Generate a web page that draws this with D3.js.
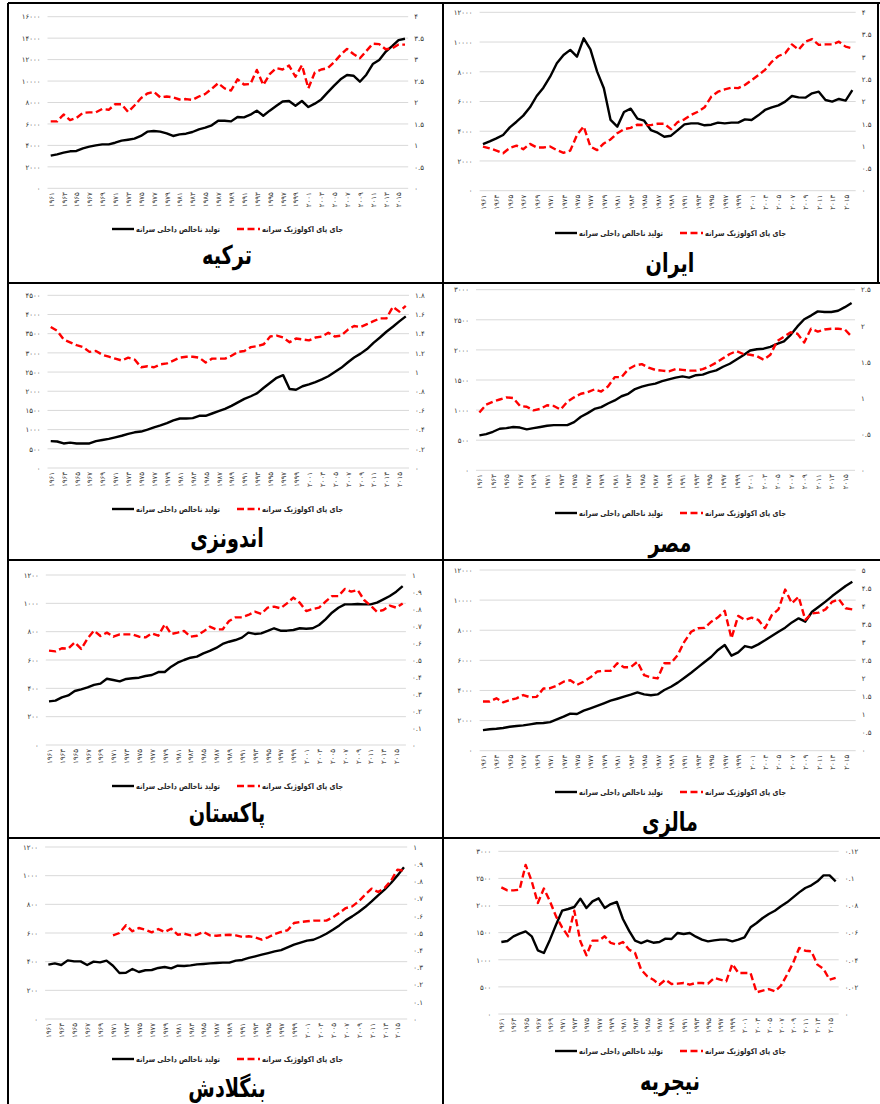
<!DOCTYPE html>
<html>
<head>
<meta charset="utf-8">
<script src="https://cdn.jsdelivr.net/npm/d3@7"></script>
<style>
  html, body { margin: 0; padding: 0; background: #fff; }
  svg { display: block; font-family: "DejaVu Sans", sans-serif; }
</style>
</head>
<body>
<svg id="chart" width="880" height="1104"></svg>
<script>
// ---------------- DATA ----------------
const years = [1961,1962,1963,1964,1965,1966,1967,1968,1969,1970,1971,1972,1973,1974,1975,1976,1977,1978,1979,1980,
  1981,1982,1983,1984,1985,1986,1987,1988,1989,1990,1991,1992,1993,1994,1995,1996,1997,1998,1999,2000,
  2001,2002,2003,2004,2005,2006,2007,2008,2009,2010,2011,2012,2013,2014,2015,2016];
const yearTickLabels = [1961,1963,1965,1967,1969,1971,1973,1975,1977,1979,1981,1983,1985,1987,1989,1991,1993,1995,
  1997,1999,2001,2003,2005,2007,2009,2011,2013,2015];

const seriesNames = ["تولید ناخالص داخلی سرانه", "جای پای اکولوژیک سرانه"];
const countryNames = ["ترکیه", "ایران", "اندونزی", "مصر", "پاکستان", "مالزی", "بنگلادش", "نیجریه"];

// Turkey
const turkeyGdp = [3050,3170,3320,3450,3480,3730,3880,4000,4100,4100,4250,4440,4530,4630,4880,5280,5340,5280,5120,4880,
  5030,5090,5250,5500,5650,5870,6300,6300,6240,6650,6610,6860,7240,6770,7240,7670,8100,8140,7700,8140,
  7580,7890,8290,8940,9570,10160,10560,10500,9940,10590,11580,11960,12730,13260,13820,13940];
const turkeyEf = [1.56,1.56,1.72,1.59,1.64,1.76,1.77,1.77,1.85,1.83,1.96,1.96,1.78,1.93,2.10,2.21,2.25,2.12,2.14,2.12,
  2.07,2.08,2.06,2.14,2.20,2.32,2.45,2.33,2.28,2.54,2.42,2.43,2.76,2.41,2.66,2.80,2.77,2.86,2.60,2.87,
  2.33,2.70,2.77,2.80,2.94,3.11,3.25,3.13,3.03,3.20,3.37,3.36,3.24,3.26,3.35,3.35];
const turkeyLeftTicks = [0,2000,4000,6000,8000,10000,12000,14000,16000];
const turkeyRightTicks = [0,0.5,1,1.5,2,2.5,3,3.5,4];

// Iran
const iranGdp = [3140,3320,3520,3750,4260,4640,5050,5610,6370,6930,7670,8570,9130,9470,9020,10250,9510,8010,6890,4760,
  4310,5290,5520,4850,4710,4080,3900,3630,3700,4080,4460,4530,4530,4400,4440,4580,4530,4580,4580,4800,
  4760,5070,5430,5610,5740,5990,6370,6280,6260,6550,6660,6100,5990,6170,6060,6770];
const iranEf = [0.99,0.95,0.90,0.84,0.96,1.01,0.93,1.05,0.97,0.97,0.99,0.91,0.85,0.90,1.25,1.44,0.99,0.91,1.06,1.15,
  1.29,1.38,1.41,1.48,1.47,1.47,1.50,1.50,1.38,1.54,1.60,1.70,1.77,1.87,2.11,2.22,2.27,2.31,2.30,2.37,
  2.48,2.59,2.71,2.89,3.02,3.08,3.28,3.16,3.34,3.40,3.27,3.28,3.28,3.34,3.23,3.19];
const iranLeftTicks = [0,2000,4000,6000,8000,10000,12000];
const iranRightTicks = [0,0.5,1,1.5,2,2.5,3,3.5,4];

// Indonesia
const indonesiaGdp = [700,690,640,660,640,640,640,700,730,760,800,840,890,930,950,1000,1060,1110,1170,1240,
  1290,1290,1300,1360,1360,1420,1480,1540,1620,1710,1800,1870,1950,2090,2220,2350,2420,2060,2040,2130,
  2180,2240,2310,2390,2500,2610,2750,2880,2980,3100,3260,3400,3550,3680,3820,3950];
const indonesiaEf = [1.47,1.43,1.34,1.31,1.28,1.26,1.21,1.22,1.18,1.16,1.14,1.12,1.15,1.13,1.05,1.06,1.05,1.08,1.09,1.12,
  1.15,1.16,1.16,1.15,1.10,1.14,1.14,1.14,1.17,1.21,1.22,1.26,1.27,1.29,1.37,1.38,1.36,1.31,1.35,1.34,
  1.33,1.36,1.37,1.41,1.37,1.38,1.44,1.48,1.47,1.50,1.53,1.56,1.56,1.68,1.63,1.69];
const indonesiaLeftTicks = [0,500,1000,1500,2000,2500,3000,3500,4000,4500];
const indonesiaRightTicks = [0,0.2,0.4,0.6,0.8,1,1.2,1.4,1.6,1.8];

// Egypt
const egyptGdp = [580,600,640,690,700,720,710,680,700,720,740,750,750,750,800,890,950,1020,1050,1110,
  1160,1230,1270,1350,1390,1420,1440,1480,1510,1540,1560,1540,1580,1590,1630,1660,1720,1770,1840,1910,
  1990,2010,2020,2050,2100,2140,2250,2390,2510,2570,2640,2630,2630,2650,2710,2780];
const egyptEf = [0.80,0.91,0.95,0.98,1.01,1.00,0.89,0.88,0.83,0.85,0.90,0.89,0.84,0.95,1.01,1.06,1.08,1.12,1.09,1.16,
  1.29,1.29,1.40,1.45,1.47,1.42,1.39,1.38,1.37,1.40,1.39,1.38,1.38,1.40,1.44,1.49,1.55,1.61,1.65,1.61,
  1.60,1.58,1.53,1.60,1.79,1.85,1.91,1.89,1.77,1.96,1.92,1.95,1.96,1.96,1.95,1.85];
const egyptLeftTicks = [0,500,1000,1500,2000,2500,3000];
const egyptRightTicks = [0,0.5,1,1.5,2,2.5];

// Pakistan
const pakistanGdp = [308,313,336,350,381,393,407,424,433,468,459,449,466,471,475,487,494,515,515,553,
  581,600,616,624,647,664,685,713,729,741,758,793,784,788,805,824,807,807,812,824,
  821,824,847,887,934,969,993,993,995,993,993,1005,1028,1052,1082,1122];
const pakistanEf = [0.555,0.551,0.569,0.567,0.604,0.565,0.627,0.673,0.641,0.661,0.637,0.651,0.651,0.651,0.637,0.633,0.657,0.643,0.710,0.653,
  0.661,0.671,0.637,0.643,0.667,0.696,0.680,0.680,0.729,0.751,0.751,0.765,0.784,0.771,0.808,0.814,0.804,0.833,0.867,0.837,
  0.788,0.800,0.808,0.843,0.876,0.876,0.918,0.902,0.912,0.853,0.820,0.784,0.794,0.820,0.808,0.833];
const pakistanLeftTicks = [0,200,400,600,800,1000,1200];
const pakistanRightTicks = [0,0.1,0.2,0.3,0.4,0.5,0.6,0.7,0.8,0.9,1];

// Malaysia
const malaysiaGdp = [1370,1420,1460,1510,1590,1640,1680,1750,1820,1840,1900,2080,2260,2460,2440,2660,2810,2970,3140,3320,
  3450,3590,3720,3870,3740,3680,3740,4030,4250,4520,4850,5180,5530,5890,6240,6690,7020,6310,6530,6950,
  6840,7060,7330,7620,7900,8170,8520,8790,8570,9230,9560,9900,10270,10600,10940,11220];
const malaysiaEf = [1.36,1.36,1.45,1.34,1.40,1.45,1.54,1.48,1.49,1.72,1.73,1.80,1.91,1.95,1.82,1.91,2.03,2.19,2.21,2.21,
  2.42,2.31,2.31,2.46,2.09,2.03,2.00,2.42,2.42,2.65,3.02,3.29,3.39,3.40,3.57,3.69,3.87,3.11,3.73,3.62,
  3.68,3.62,3.39,3.75,3.91,4.46,4.08,4.26,3.62,3.80,3.82,3.91,4.12,4.19,3.94,3.91];
const malaysiaLeftTicks = [0,2000,4000,6000,8000,10000,12000];
const malaysiaRightTicks = [0,0.5,1,1.5,2,2.5,3,3.5,4,4.5,5];

// Bangladesh
const bangladeshGdp = [379,388,377,409,402,402,377,400,395,407,372,321,323,349,328,340,342,356,363,353,
  372,370,374,381,384,388,391,393,393,407,412,426,437,449,460,472,481,500,519,533,
  547,553,572,595,623,653,688,716,747,781,821,863,902,949,1002,1058];
const bangladeshEf = [null,null,null,null,null,null,null,null,null,null,0.486,0.500,0.545,0.510,0.529,0.519,0.504,0.523,0.506,0.525,
  0.490,0.496,0.486,0.490,0.506,0.486,0.484,0.488,0.490,0.486,0.477,0.481,0.475,0.461,0.475,0.494,0.506,0.516,0.558,0.564,
  0.568,0.572,0.572,0.572,0.591,0.616,0.645,0.655,0.684,0.723,0.758,0.738,0.762,0.804,0.868,0.862];
const bangladeshLeftTicks = [0,200,400,600,800,1000,1200];
const bangladeshRightTicks = [0,0.1,0.2,0.3,0.4,0.5,0.6,0.7,0.8,0.9,1];

// Nigeria
const nigeriaGdp = [1328,1346,1432,1481,1524,1432,1174,1125,1371,1647,1905,1936,1973,2127,1955,2077,2133,1955,2028,2065,
  1752,1537,1352,1309,1352,1315,1328,1389,1383,1494,1475,1494,1426,1371,1340,1358,1371,1371,1340,1371,
  1414,1598,1678,1770,1844,1905,1985,2059,2151,2243,2323,2372,2446,2557,2557,2446];
const nigeriaEf = [0.0934,0.0912,0.0912,0.0917,0.110,0.0979,0.0819,0.0925,0.0831,0.0720,0.0639,0.0573,0.0762,0.0536,0.0433,0.0541,0.0541,0.0573,0.0524,0.0511,
  0.0531,0.0475,0.0450,0.0327,0.0278,0.0253,0.0216,0.0253,0.0221,0.0224,0.0229,0.0216,0.0229,0.0229,0.0224,0.0266,0.0253,0.0241,0.0369,0.0302,
  0.0302,0.0302,0.0160,0.0172,0.0184,0.0167,0.0209,0.0290,0.0376,0.0487,0.0467,0.0462,0.0364,0.0332,0.0253,0.0266];
const nigeriaLeftTicks = [0,500,1000,1500,2000,2500,3000];
const nigeriaRightTicks = [0,0.02,0.04,0.06,0.08,0.1,0.12];

// ---------------- LAYOUT (positions only) ----------------
const panels = [
  {ox:0,   oy:0,   x0:47.5, x1:408.2, yTop:16.7, yBot:188.3, legY:229, titleY:255, gdp:turkeyGdp, ef:turkeyEf, lt:turkeyLeftTicks, rt:turkeyRightTicks},
  {ox:443, oy:0,   x0:36.6, x1:412.7, yTop:12.3, yBot:190.7, legY:233, titleY:263, gdp:iranGdp, ef:iranEf, lt:iranLeftTicks, rt:iranRightTicks},
  {ox:0,   oy:283, x0:47.5, x1:409.0, yTop:12.3, yBot:185.0, legY:226, titleY:255, gdp:indonesiaGdp, ef:indonesiaEf, lt:indonesiaLeftTicks, rt:indonesiaRightTicks},
  {ox:443, oy:283, x0:33.0, x1:412.0, yTop:6.7,  yBot:187.3, legY:230, titleY:260, gdp:egyptGdp, ef:egyptEf, lt:egyptLeftTicks, rt:egyptRightTicks},
  {ox:0,   oy:560, x0:45.8, x1:405.9, yTop:15.0, yBot:185.0, legY:226, titleY:253, gdp:pakistanGdp, ef:pakistanEf, lt:pakistanLeftTicks, rt:pakistanRightTicks},
  {ox:443, oy:560, x0:36.6, x1:412.7, yTop:10.0, yBot:190.7, legY:232, titleY:262, gdp:malaysiaGdp, ef:malaysiaEf, lt:malaysiaLeftTicks, rt:malaysiaRightTicks},
  {ox:0,   oy:838, x0:45.1, x1:407.2, yTop:9.0,  yBot:181.0, legY:221, titleY:250, gdp:bangladeshGdp, ef:bangladeshEf, lt:bangladeshLeftTicks, rt:bangladeshRightTicks},
  {ox:443, oy:838, x0:55.3, x1:395.7, yTop:13.3, yBot:176.0, legY:213, titleY:243, gdp:nigeriaGdp, ef:nigeriaEf, lt:nigeriaLeftTicks, rt:nigeriaRightTicks}
];

const fa = s => String(s).replace(/\d/g, d => "۰۱۲۳۴۵۶۷۸۹"[+d]);

const svg = d3.select("#chart");

panels.forEach((p, idx) => {
  const g = svg.append("g").attr("transform", `translate(${p.ox},${p.oy})`);
  const x = d3.scalePoint().domain(years).range([p.x0, p.x1]).padding(0.5);
  const yL = d3.scaleLinear().domain([0, d3.max(p.lt)]).range([p.yBot, p.yTop]);
  const yR = d3.scaleLinear().domain([0, d3.max(p.rt)]).range([p.yBot, p.yTop]);

  // gridlines
  g.append("g").selectAll("line").data(p.lt).join("line")
    .attr("x1", p.x0).attr("x2", p.x1)
    .attr("y1", d => yL(d)).attr("y2", d => yL(d))
    .attr("stroke", "#d9d9d9").attr("stroke-width", 1);

  // left axis labels
  const leftAxis = d3.axisLeft(yL).tickValues(p.lt).tickSize(0).tickPadding(7).tickFormat(d => fa(d));
  const la = g.append("g").attr("transform", `translate(${p.x0},0)`).call(leftAxis);
  la.select(".domain").remove();
  la.selectAll("text").attr("font-size", 7).attr("fill", "#333").attr("font-family", "DejaVu Sans");

  // right axis labels
  const rightAxis = d3.axisRight(yR).tickValues(p.rt).tickSize(0).tickPadding(6).tickFormat(d => fa(d));
  const ra = g.append("g").attr("transform", `translate(${p.x1},0)`).call(rightAxis);
  ra.select(".domain").remove();
  ra.selectAll("text").attr("font-size", 7).attr("fill", "#333").attr("font-family", "DejaVu Sans");

  // year labels (rotated)
  const xAxis = d3.axisBottom(x).tickValues(yearTickLabels).tickSize(0).tickPadding(0).tickFormat(d => fa(d));
  const xa = g.append("g").attr("transform", `translate(0,${p.yBot})`).call(xAxis);
  xa.select(".domain").remove();
  xa.selectAll("text")
    .attr("font-size", 7).attr("fill", "#333").attr("font-family", "DejaVu Sans")
    .attr("text-anchor", "end")
    .attr("transform", "rotate(-90)")
    .attr("x", -4).attr("y", 0).attr("dy", "0.35em");

  // lines
  const lineL = d3.line().defined(d => d[1] != null).x(d => x(d[0])).y(d => yL(d[1]));
  const lineR = d3.line().defined(d => d[1] != null).x(d => x(d[0])).y(d => yR(d[1]));
  g.append("path").datum(years.map((yr, i) => [yr, p.gdp[i]]))
    .attr("d", lineL).attr("fill", "none").attr("stroke", "#000")
    .attr("stroke-width", 2.4).attr("stroke-linejoin", "round");
  g.append("path").datum(years.map((yr, i) => [yr, p.ef[i]]))
    .attr("d", lineR).attr("fill", "none").attr("stroke", "#ff0000")
    .attr("stroke-width", 2.4).attr("stroke-dasharray", "7,3.5").attr("stroke-linejoin", "round");

  // legend
  const lg = g.append("g").attr("transform", `translate(0,${p.legY})`);
  lg.append("line").attr("x1", 112).attr("x2", 134).attr("y1", 0).attr("y2", 0)
    .attr("stroke", "#000").attr("stroke-width", 2.4);
  lg.append("text").attr("x", 136).attr("y", 0).attr("dy", "0.35em")
    .attr("text-anchor", "start").attr("font-size", 8).attr("font-weight", "bold")
    .attr("textLength", 84).attr("lengthAdjust", "spacingAndGlyphs")
    .attr("fill", "#262626").text(seriesNames[0]);
  lg.append("line").attr("x1", 237).attr("x2", 260).attr("y1", 0).attr("y2", 0)
    .attr("stroke", "#ff0000").attr("stroke-width", 2.4).attr("stroke-dasharray", "7,3.5");
  lg.append("text").attr("x", 262).attr("y", 0).attr("dy", "0.35em")
    .attr("text-anchor", "start").attr("font-size", 8).attr("font-weight", "bold")
    .attr("textLength", 81).attr("lengthAdjust", "spacingAndGlyphs")
    .attr("fill", "#262626").text(seriesNames[1]);

  // title
  g.append("text")
    .attr("transform", `translate(227,${p.titleY}) scale(0.74,1)`)
    .attr("dy", "0.35em")
    .attr("text-anchor", "middle").attr("font-size", 26).attr("font-weight", "bold")
    .attr("fill", "#000").text(countryNames[idx]);
});

// panel borders
const borders = svg.append("g").attr("stroke", "#000").attr("stroke-width", 2);
[[8, 3, 880, 3], [8, 283, 880, 283], [8, 560, 880, 560], [8, 838, 880, 838],
 [8, 3, 8, 1104], [443, 3, 443, 1104], [878, 3, 878, 283]].forEach(b => {
  borders.append("line").attr("x1", b[0]).attr("y1", b[1]).attr("x2", b[2]).attr("y2", b[3]);
});
</script>
</body>
</html>
